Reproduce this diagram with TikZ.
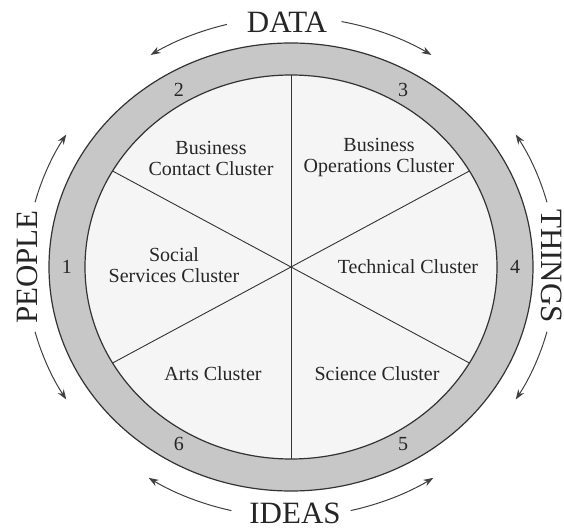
\documentclass[tikz,border=0pt]{standalone}
\usepackage{fontspec}
\setmainfont{Liberation Serif}
\usetikzlibrary{arrows.meta}

\begin{document}
\begin{tikzpicture}[x=1pt,y=1pt,
>={Stealth[length=10pt,width=7pt]},
clusterlabel/.style={align=center, text=black!85, font=\fontsize{20}{21}\selectfont},
ringnumber/.style={text=black!85, font=\fontsize{20}{21}\selectfont},
bigword/.style={text=black!85, font=\fontsize{31}{33}\selectfont, anchor=base, inner sep=0pt},
spoke/.style={draw=black!80, line width=0.9pt},
sweep/.style={->, line width=1pt, draw=black!75}
]
\useasboundingbox (-291,-262) rectangle (273,267);

%Ring
\coordinate (O) at (0,0);
\filldraw[fill=black!22, draw=black!80, line width=1.2pt] (O) ellipse [x radius=242, y radius=224];
\filldraw[fill=black!4, draw=black!80, line width=1.2pt] (O) ellipse [x radius=206, y radius=192];

%Spokes
\coordinate (S30) at (30:206 and 192);
\coordinate (S90) at (90:206 and 192);
\coordinate (S150) at (150:206 and 192);
\coordinate (S210) at (210:206 and 192);
\coordinate (S270) at (270:206 and 192);
\coordinate (S330) at (330:206 and 192);
\draw[spoke] (S90) -- (S270);
\draw[spoke] (S150) -- (S330);
\draw[spoke] (S30) -- (S210);

%Nodes
\node[clusterlabel] at (-80,109) (contact) {Business\\Contact Cluster};
\node[clusterlabel] at (88,109) (operations) {Business\\Operations Cluster};
\node[clusterlabel] at (-117,2) (social) {Social\\Services Cluster};
\node[clusterlabel] at (117,0) (technical) {Technical Cluster};
\node[clusterlabel] at (-78,-107) (arts) {Arts Cluster};
\node[clusterlabel] at (86,-107) (science) {Science Cluster};

\node[ringnumber] at (180:224 and 204) (num-1) {1};
\node[ringnumber] at (120:224 and 204) (num-2) {2};
\node[ringnumber] at (60:224 and 204) (num-3) {3};
\node[ringnumber] at (0:224 and 204) (num-4) {4};
\node[ringnumber] at (300:224 and 204) (num-5) {5};
\node[ringnumber] at (240:224 and 204) (num-6) {6};

\node[bigword] at (-4,234) (DATA) {DATA};
\node[bigword] at (4,-256) (IDEAS) {IDEAS};
\node[bigword, rotate=90] at (-253,0) (PEOPLE) {PEOPLE};
\node[bigword, rotate=-90] at (250,1) (THINGS) {THINGS};

%Arrows
\coordinate (DATA-l) at (104:265 and 250);
\coordinate (DATA-r) at (79:265 and 250);
\coordinate (PEOPLE-u) at (165:265 and 250);
\coordinate (PEOPLE-d) at (195:265 and 250);
\coordinate (THINGS-u) at (15:265 and 250);
\coordinate (THINGS-d) at (345:265 and 250);
\coordinate (IDEAS-l) at (257:265 and 250);
\coordinate (IDEAS-r) at (283:265 and 250);

\draw[sweep] (DATA-l) arc[start angle=104, end angle=122, x radius=265, y radius=250];
\draw[sweep] (DATA-r) arc[start angle=79, end angle=58, x radius=265, y radius=250];
\draw[sweep] (PEOPLE-u) arc[start angle=165, end angle=148, x radius=265, y radius=250];
\draw[sweep] (PEOPLE-d) arc[start angle=195, end angle=212, x radius=265, y radius=250];
\draw[sweep] (THINGS-u) arc[start angle=15, end angle=32, x radius=265, y radius=250];
\draw[sweep] (THINGS-d) arc[start angle=345, end angle=328, x radius=265, y radius=250];
\draw[sweep] (IDEAS-l) arc[start angle=257, end angle=237.5, x radius=265, y radius=250];
\draw[sweep] (IDEAS-r) arc[start angle=283, end angle=302.5, x radius=265, y radius=250];

\end{tikzpicture}
\end{document}
